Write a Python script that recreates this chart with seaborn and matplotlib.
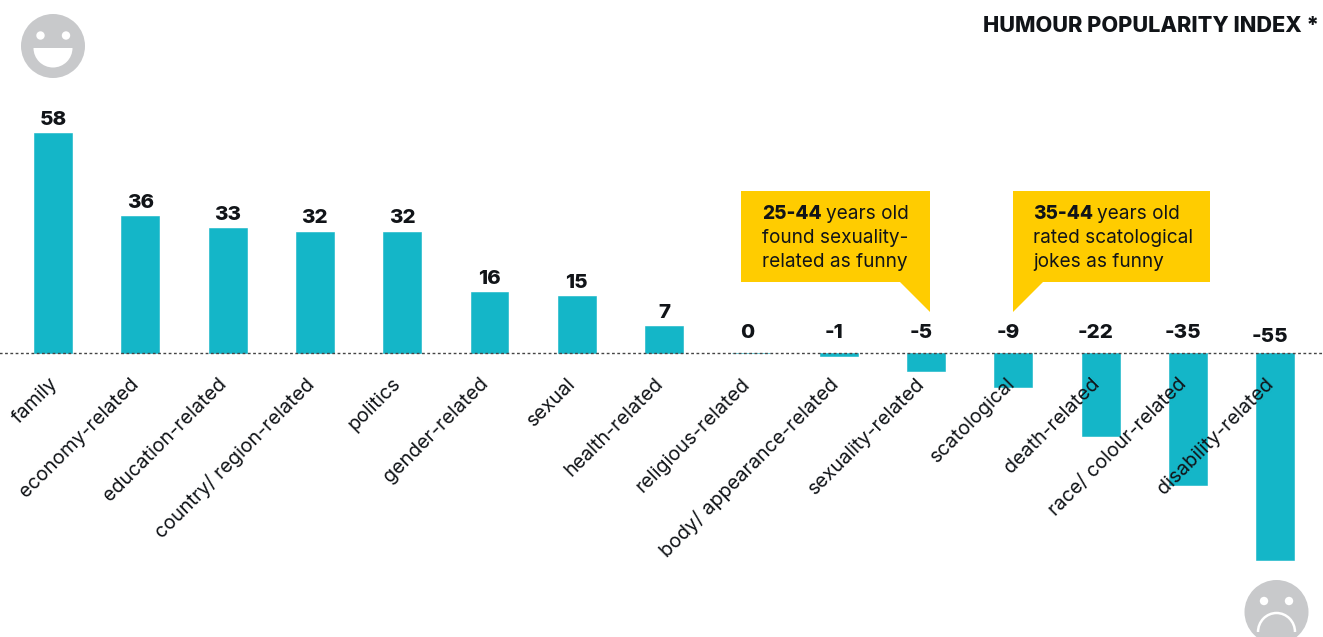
import matplotlib
matplotlib.use("Agg")
import matplotlib.pyplot as plt
import seaborn as sns
from matplotlib.patches import Circle, Polygon, Wedge, Arc
from matplotlib.transforms import ScaledTranslation

categories = ["family", "economy-related", "education-related", "country/ region-related",
              "politics", "gender-related", "sexual", "health-related", "religious-related",
              "body/ appearance-related", "sexuality-related", "scatological", "death-related",
              "race/ colour-related", "disability-related"]
values = [58, 36, 33, 32, 32, 16, 15, 7, 0, -1, -5, -9, -22, -35, -55]
value_labels = ["58", "36", "33", "32", "32", "16", "15", "7", "0", "-1", "-5", "-9", "-22", "-35", "-55"]

TEAL = "#14B6C8"
YELLOW = "#FFCC00"
GREY = "#C8C9CB"
INK = "#111418"
W, H = 1323, 637
FONT = "Inter"

sns.set_theme(style="white")
plt.rcParams["font.family"] = [FONT, "DejaVu Sans"]

fig = plt.figure(figsize=(W / 100, H / 100), dpi=100, facecolor="white")
ax = fig.add_axes([0, 0, 1, 1], facecolor="none")

sns.barplot(x=categories, y=values, order=categories, color=TEAL, saturation=1,
            width=0.435, edgecolor=TEAL, linewidth=0.4, ax=ax)

# Scales: 87.3 px per category, 3.78 px per index point, zero line at y = 352.5 px
STEP, UNIT, X0, Y0 = 87.3, 3.78, 53, 352.5
ax.set_xlim(-X0 / STEP, (W - X0) / STEP)
ax.set_ylim(-(H - Y0) / UNIT, Y0 / UNIT)

for name in ("top", "left", "right"):
    ax.spines[name].set_visible(False)
ax.spines["bottom"].set_position(("data", 0))
ax.spines["bottom"].set_linestyle((0, (1, 2.8)))
ax.spines["bottom"].set_linewidth(1.0)
ax.spines["bottom"].set_color("#444444")
ax.set_axisbelow(False)
ax.set_yticks([])
ax.tick_params(axis="x", length=0, pad=16)
ax.set_xticks(range(len(categories)))
ax.set_xticklabels(categories, rotation=45, ha="right", va="top", rotation_mode="anchor",
                   fontsize=14.2, color=INK)

# Shift category labels left; two sit at their own distance from the bar
label_shift = {"family": -3, "scatological": -5}
for label, cat in zip(ax.get_xticklabels(), categories):
    dx = label_shift.get(cat, -7.5)
    label.set_transform(label.get_transform() + ScaledTranslation(dx / 72, 0, fig.dpi_scale_trans))

for i, (v, text) in enumerate(zip(values, value_labels)):
    dx = 0 if v > 0 else (-3 if v == 0 else -3.5)
    dy = 3 if v > 0 else (4.5 if v == -55 else 7.5)
    ax.annotate(text, (i, max(v, 0)), xytext=(dx, dy), textcoords="offset points",
                ha="center", va="bottom", fontsize=14.8, fontweight="heavy", color=INK)

# Overlay in pixel coordinates for the faces, callouts and heading
ov = fig.add_axes([0, 0, 1, 1], facecolor="none")
ov.set_xlim(0, W)
ov.set_ylim(H, 0)
ov.axis("off")

ov.text(1319, 26, "HUMOUR POPULARITY INDEX *", ha="right", va="center",
        fontsize=15.6, fontweight="heavy", color=INK)

# Happy face
ov.add_patch(Circle((53, 46), 32, fc=GREY, ec="none"))
for ex in (40.5, 66):
    ov.add_patch(Circle((ex, 35.5), 4.2, fc="white", ec="none"))
ov.add_patch(Wedge((53, 48), 19.5, 0, 180, fc="white", ec="none"))

# Sad face
ov.add_patch(Circle((1276.5, 612), 32, fc=GREY, ec="none"))
for ex in (1264, 1289):
    ov.add_patch(Circle((ex, 601), 4.2, fc="white", ec="none"))
ov.add_patch(Arc((1276.5, 632), 37, 38, theta1=180, theta2=360, color="white", lw=1.8))

# Callouts
ov.add_patch(Polygon([(741, 191), (930, 191), (930, 312), (900, 282), (741, 282)], fc=YELLOW, ec="none"))
ov.add_patch(Polygon([(1013, 191), (1210, 191), (1210, 282), (1043, 282), (1013, 312)], fc=YELLOW, ec="none"))

note_style = dict(fontsize=13.7, color=INK, va="center", ha="left")
ov.text(762, 214, "25-44", fontweight="heavy", **note_style)
ov.text(826, 214, "years old", **note_style)
ov.text(762, 238, "found sexuality-", **note_style)
ov.text(762, 262, "related as funny", **note_style)
ov.text(1033, 214, "35-44", fontweight="heavy", **note_style)
ov.text(1097, 214, "years old", **note_style)
ov.text(1033, 238, "rated scatological", **note_style)
ov.text(1033, 262, "jokes as funny", **note_style)

fig.savefig("out.png", dpi=100, facecolor="white")
